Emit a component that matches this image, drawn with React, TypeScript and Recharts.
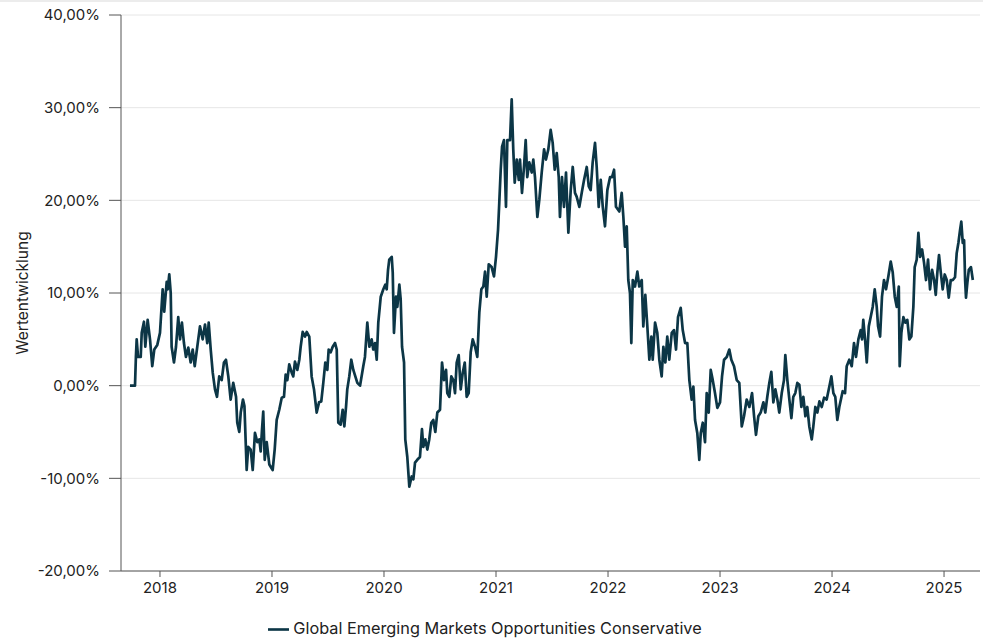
import React from 'react';
import { LineChart, Line, XAxis, YAxis, CartesianGrid, Legend } from 'recharts';

// [decimal year, performance in %]
const seg2017: [number, number][] = [
  [2017.732, 0], [2017.777, 0], [2017.785, 3.1], [2017.792, 5.0], [2017.804, 3.1], [2017.828, 3.1],
  [2017.837, 5.7], [2017.857, 6.9], [2017.869, 4.2], [2017.89, 7.1], [2017.911, 5.0], [2017.931, 2.1],
  [2017.949, 3.9], [2017.976, 4.4],
];

const seg2018: [number, number][] = [
  [2018.0, 5.7], [2018.024, 10.4], [2018.038, 8.0], [2018.06, 11.2], [2018.069, 10.4], [2018.083, 12.0],
  [2018.096, 10.0], [2018.104, 4.2], [2018.125, 2.5], [2018.143, 4.2], [2018.163, 7.4], [2018.179, 5.0],
  [2018.196, 6.8], [2018.214, 4.6], [2018.232, 3.1], [2018.253, 4.1], [2018.274, 2.5], [2018.292, 3.9],
  [2018.31, 2.1], [2018.333, 4.2], [2018.357, 6.4], [2018.381, 5.0], [2018.402, 6.6], [2018.422, 4.6],
  [2018.435, 6.8], [2018.453, 3.9], [2018.471, 1.4], [2018.491, -0.4], [2018.509, -1.2], [2018.529, 1.0],
  [2018.551, 0.6], [2018.571, 2.5], [2018.589, 2.8], [2018.61, 1.0], [2018.631, -1.5], [2018.654, 0.3],
  [2018.679, -1.2], [2018.69, -4.0], [2018.708, -5.0], [2018.721, -2.9], [2018.741, -1.5], [2018.754, -2.2],
  [2018.774, -9.1], [2018.788, -6.6], [2018.81, -6.9], [2018.828, -9.1], [2018.848, -5.1], [2018.869, -6.1],
  [2018.887, -5.8], [2018.899, -7.1], [2018.911, -4.7], [2018.922, -2.8], [2018.935, -8.0], [2018.953, -6.1],
  [2018.976, -8.5],
];

const seg2019: [number, number][] = [
  [2019.006, -9.1], [2019.024, -6.9], [2019.042, -3.7], [2019.065, -2.6], [2019.087, -1.3], [2019.107, -1.2],
  [2019.122, 1.2], [2019.137, 0.6], [2019.154, 2.3], [2019.176, 1.4], [2019.19, 1.0], [2019.205, 2.6],
  [2019.226, 1.7], [2019.244, 2.8], [2019.256, 4.2], [2019.274, 5.8], [2019.295, 5.3], [2019.31, 5.8],
  [2019.333, 5.3], [2019.354, 1.0], [2019.375, -0.4], [2019.399, -2.9], [2019.42, -1.8], [2019.44, -1.7],
  [2019.458, 0.3], [2019.476, 2.5], [2019.494, 1.7], [2019.506, 3.9], [2019.524, 3.6], [2019.542, 4.2],
  [2019.563, 4.6], [2019.578, 3.9], [2019.592, -4.0], [2019.613, -4.2], [2019.631, -2.6], [2019.646, -4.4],
  [2019.661, -2.3], [2019.672, -0.4], [2019.69, 1.0], [2019.708, 2.8], [2019.726, 1.7], [2019.744, 1.0],
  [2019.762, 0.3], [2019.786, 0.0], [2019.815, 2.1], [2019.83, 3.1], [2019.851, 6.8], [2019.869, 4.2],
  [2019.89, 5.0], [2019.904, 3.9], [2019.92, 4.6], [2019.935, 2.8], [2019.949, 6.8], [2019.971, 9.6],
  [2019.994, 10.4],
];

const seg2020: [number, number][] = [
  [2020.012, 10.9], [2020.024, 10.4], [2020.036, 12.5], [2020.047, 13.6], [2020.069, 13.9], [2020.078, 12.2],
  [2020.089, 5.7], [2020.107, 9.6], [2020.119, 8.5], [2020.137, 10.9], [2020.149, 9.3], [2020.161, 4.2],
  [2020.179, 2.5], [2020.19, -5.8], [2020.208, -7.7], [2020.226, -10.9], [2020.247, -9.8], [2020.262, -10.1],
  [2020.277, -8.3], [2020.297, -8.0], [2020.321, -7.7], [2020.339, -4.7], [2020.351, -6.6], [2020.369, -5.8],
  [2020.387, -6.9], [2020.404, -5.8], [2020.422, -4.0], [2020.44, -3.7], [2020.458, -5.0], [2020.476, -2.9],
  [2020.5, -2.6], [2020.518, 2.5], [2020.536, 0.6], [2020.554, 1.7], [2020.565, -0.8], [2020.583, -1.2],
  [2020.601, 1.0], [2020.619, 0.6], [2020.634, -0.8], [2020.649, 2.5], [2020.667, 3.3], [2020.685, -0.4],
  [2020.703, 1.4], [2020.721, 2.5], [2020.738, -1.2], [2020.756, -0.8], [2020.774, 3.6], [2020.792, 5.0],
  [2020.813, 4.2], [2020.833, 3.1], [2020.851, 7.9], [2020.869, 10.4], [2020.887, 10.7], [2020.902, 12.3],
  [2020.917, 9.6], [2020.935, 13.1], [2020.961, 12.8], [2020.982, 11.8],
];

const seg2021: [number, number][] = [
  [2021.0, 13.9], [2021.018, 16.8], [2021.029, 19.7], [2021.042, 23.3], [2021.054, 25.8], [2021.071, 26.5],
  [2021.089, 19.3], [2021.101, 26.5], [2021.125, 26.5], [2021.14, 30.9], [2021.154, 25.5], [2021.167, 21.9],
  [2021.185, 24.4], [2021.203, 22.2], [2021.214, 24.4], [2021.232, 20.8], [2021.25, 23.6], [2021.265, 26.5],
  [2021.279, 22.5], [2021.297, 24.1], [2021.319, 23.0], [2021.333, 24.4], [2021.348, 22.5], [2021.369, 18.2],
  [2021.387, 20.1], [2021.408, 23.0], [2021.429, 25.5], [2021.446, 24.4], [2021.467, 25.5], [2021.488, 27.6],
  [2021.506, 26.2], [2021.524, 23.3], [2021.542, 25.1], [2021.56, 22.5], [2021.571, 18.2], [2021.589, 22.5],
  [2021.607, 19.3], [2021.625, 23.0], [2021.646, 16.5], [2021.667, 21.1], [2021.685, 23.6], [2021.705, 20.8],
  [2021.72, 20.4], [2021.744, 19.3], [2021.765, 20.8], [2021.786, 22.2], [2021.81, 23.6], [2021.828, 21.5],
  [2021.845, 21.1], [2021.863, 24.1], [2021.884, 26.2], [2021.899, 23.6], [2021.917, 19.3], [2021.935, 22.2],
  [2021.953, 19.3], [2021.973, 17.2], [2021.994, 21.1],
];

const seg2022: [number, number][] = [
  [2022.018, 22.5], [2022.036, 22.5], [2022.054, 23.3], [2022.071, 19.3], [2022.101, 18.8], [2022.122, 20.8],
  [2022.137, 18.2], [2022.152, 15.0], [2022.167, 17.2], [2022.181, 11.4], [2022.196, 10.0], [2022.208, 4.6],
  [2022.221, 11.4], [2022.241, 10.7], [2022.262, 12.3], [2022.279, 10.7], [2022.301, 11.4], [2022.315, 6.4],
  [2022.333, 9.8], [2022.351, 6.4], [2022.369, 2.8], [2022.387, 5.3], [2022.399, 2.8], [2022.42, 6.8],
  [2022.44, 5.7], [2022.458, 2.8], [2022.479, 1.0], [2022.494, 4.2], [2022.512, 2.5], [2022.529, 5.3],
  [2022.547, 2.8], [2022.569, 5.7], [2022.589, 6.0], [2022.607, 3.9], [2022.625, 7.4], [2022.649, 8.4],
  [2022.667, 6.0], [2022.688, 4.6], [2022.708, 4.6], [2022.726, 0.6], [2022.747, -1.5], [2022.762, -0.1],
  [2022.777, -3.7], [2022.797, -5.1], [2022.815, -8.0], [2022.828, -5.1], [2022.846, -4.0], [2022.866, -6.1],
  [2022.881, -0.8], [2022.899, -2.9], [2022.917, 1.7], [2022.935, 0.6], [2022.955, -0.8], [2022.976, -2.4],
];

const seg2023: [number, number][] = [
  [2023.0, -1.8], [2023.018, 1.0], [2023.036, 2.8], [2023.06, 3.1], [2023.083, 3.9], [2023.101, 2.8],
  [2023.125, 2.1], [2023.149, 0.6], [2023.172, 0.3], [2023.194, -4.4], [2023.214, -3.3], [2023.238, -1.5],
  [2023.262, -2.3], [2023.286, -0.8], [2023.304, -3.3], [2023.321, -5.3], [2023.342, -3.3], [2023.363, -2.9],
  [2023.387, -1.8], [2023.404, -2.9], [2023.422, -1.2], [2023.44, 0.3], [2023.458, 1.5], [2023.476, -1.8],
  [2023.494, -0.4], [2023.512, -1.5], [2023.529, -2.9], [2023.551, -0.8], [2023.571, 0.6], [2023.583, 3.3],
  [2023.601, 0.6], [2023.619, -1.5], [2023.637, -3.5], [2023.654, -1.2], [2023.672, -0.8], [2023.69, 0.3],
  [2023.708, 0.1], [2023.726, -2.3], [2023.744, -1.2], [2023.762, -3.3], [2023.779, -2.3], [2023.797, -4.4],
  [2023.819, -5.8], [2023.833, -4.4], [2023.851, -2.3], [2023.869, -2.9], [2023.887, -1.7], [2023.908, -2.3],
  [2023.929, -1.3], [2023.952, -1.5], [2023.976, -0.1], [2023.994, 1.0],
];

const seg2024: [number, number][] = [
  [2024.012, -0.8], [2024.029, -1.2], [2024.047, -3.7], [2024.065, -2.3], [2024.095, -0.6], [2024.116, -0.8],
  [2024.131, 2.1], [2024.154, 2.8], [2024.176, 2.1], [2024.196, 4.6], [2024.214, 3.1], [2024.235, 5.0],
  [2024.256, 6.0], [2024.268, 5.0], [2024.279, 7.1], [2024.295, 5.0], [2024.31, 2.5], [2024.328, 6.4],
  [2024.345, 7.4], [2024.363, 8.5], [2024.381, 10.4], [2024.399, 8.5], [2024.411, 6.4], [2024.429, 5.3],
  [2024.446, 9.6], [2024.464, 11.4], [2024.482, 10.4], [2024.503, 11.8], [2024.524, 13.4], [2024.542, 12.2],
  [2024.56, 9.6], [2024.578, 8.5], [2024.596, 10.7], [2024.604, 2.1], [2024.619, 5.7], [2024.637, 7.4],
  [2024.654, 6.8], [2024.672, 7.1], [2024.69, 5.0], [2024.708, 5.3], [2024.726, 8.5], [2024.738, 12.8],
  [2024.756, 13.6], [2024.771, 16.5], [2024.786, 13.9], [2024.804, 14.7], [2024.821, 13.3], [2024.839, 11.4],
  [2024.857, 13.6], [2024.875, 10.4], [2024.893, 12.5], [2024.911, 11.4], [2024.926, 9.8], [2024.94, 12.2],
  [2024.955, 14.1], [2024.971, 12.2], [2024.988, 10.4],
];

const seg2025: [number, number][] = [
  [2025.006, 12.0], [2025.024, 11.4], [2025.042, 9.5], [2025.06, 11.4], [2025.077, 11.4], [2025.098, 11.7],
  [2025.113, 14.3], [2025.128, 15.4], [2025.143, 16.8], [2025.154, 17.7], [2025.167, 15.4], [2025.179, 15.7],
  [2025.188, 11.4], [2025.196, 9.5], [2025.208, 11.1], [2025.221, 12.5], [2025.24, 12.8], [2025.257, 11.4],
];

const yearTicks = [2018, 2019, 2020, 2021, 2022, 2023, 2024, 2025];
const pctTicks = [-20, -10, 0, 10, 20, 30, 40];
const seriesName = 'Global Emerging Markets Opportunities Conservative';

const data = [...seg2017, ...seg2018, ...seg2019, ...seg2020, ...seg2021, ...seg2022, ...seg2023, ...seg2024, ...seg2025]
  .map(([t, v]) => ({ t, v }));

const fmtPct = (v: number) => `${v.toFixed(2).replace('.', ',')}%`;

const font = 'Inter, "Noto Sans", sans-serif';
const tickStyle = { fill: '#222', fontSize: 15, fontFamily: font };

export default function App() {
  return (
    <div style={{ position: 'absolute', left: 0, top: 0, width: 983, height: 639, background: '#fff', fontFamily: font }}>
      <div style={{ position: 'absolute', left: 0, top: 0, width: 983, height: 2, background: '#ececec' }} />
      <LineChart width={983} height={639} data={data} margin={{ top: 15, right: 3, bottom: 38, left: 0 }}>
        <CartesianGrid vertical={false} stroke="#e6e6e6" />
        <XAxis
          dataKey="t"
          type="number"
          domain={[2017.652, 2025.321]}
          ticks={yearTicks}
          tickFormatter={(v: number) => String(v)}
          height={30}
          tickSize={6}
          tickMargin={5}
          stroke="#555"
          tick={tickStyle}
        />
        <YAxis
          type="number"
          domain={[-20, 40]}
          ticks={pctTicks}
          tickFormatter={fmtPct}
          width={121}
          tickSize={12}
          tickMargin={9}
          stroke="#555"
          tick={tickStyle}
          label={{
            value: 'Wertentwicklung',
            angle: -90,
            position: 'insideLeft',
            offset: 22,
            style: { textAnchor: 'middle', fill: '#222', fontSize: 15.5, fontFamily: font },
          }}
        />
        <Legend
          verticalAlign="middle"
          align="center"
          iconType="plainline"
          iconSize={21}
          wrapperStyle={{ top: 618, fontSize: 16.3, fontFamily: font }}
          formatter={(value) => <span style={{ color: '#222' }}>{value}</span>}
        />
        <Line
          name={seriesName}
          dataKey="v"
          type="linear"
          stroke="#0c3646"
          strokeWidth={2.7}
          strokeLinejoin="round"
          dot={false}
          isAnimationActive={false}
        />
      </LineChart>
    </div>
  );
}
